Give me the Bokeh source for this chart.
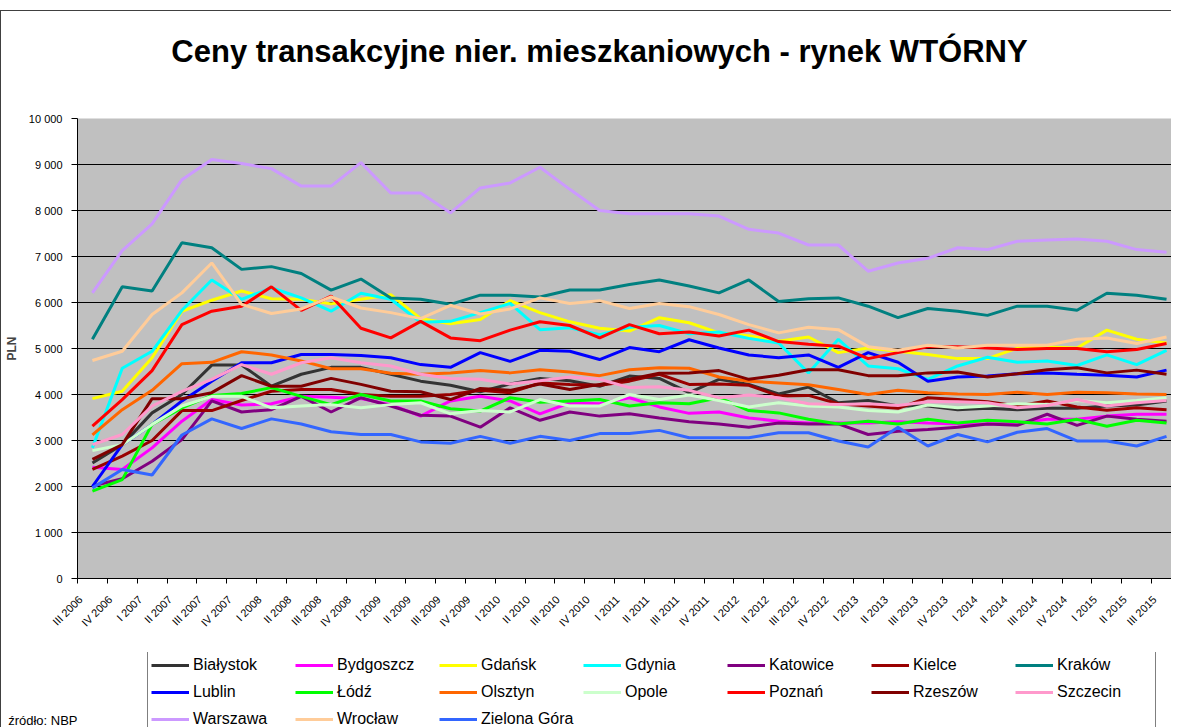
from math import pi
from bokeh.plotting import figure
from bokeh.layouts import column
from bokeh.models import FixedTicker, Legend, LegendItem, Range1d, LinearAxis, Label
from bokeh.embed import file_html
from bokeh.resources import INLINE

quarters = ["III 2006", "IV 2006",
            "I 2007", "II 2007", "III 2007", "IV 2007",
            "I 2008", "II 2008", "III 2008", "IV 2008",
            "I 2009", "II 2009", "III 2009", "IV 2009",
            "I 2010", "II 2010", "III 2010", "IV 2010",
            "I 2011", "II 2011", "III 2011", "IV 2011",
            "I 2012", "II 2012", "III 2012", "IV 2012",
            "I 2013", "II 2013", "III 2013", "IV 2013",
            "I 2014", "II 2014", "III 2014", "IV 2014",
            "I 2015", "II 2015", "III 2015"]

y_ticks = [0, 1000, 2000, 3000, 4000, 5000, 6000, 7000, 8000, 9000, 10000]
y_tick_labels = ["0", "1 000", "2 000", "3 000", "4 000", "5 000",
                 "6 000", "7 000", "8 000", "9 000", "10 000"]

bialystok = [2510, 2910, 3600, 4000, 4640, 4640, 4180, 4440, 4590, 4590, 4440, 4290, 4200, 4060, 4230, 4350, 4300, 4180, 4400, 4350,
             4040, 4330, 4220, 4010, 4160, 3820, 3870, 3750, 3750, 3670, 3700, 3670, 3700, 3700, 3750, 3770, 3860]
bydgoszcz = [2420, 2370, 2840, 3420, 3890, 3770, 3800, 3960, 3940, 3910, 3780, 3530, 3860, 3960, 3860, 3580, 3820, 3800, 3930, 3730,
             3590, 3620, 3490, 3420, 3380, 3380, 3380, 3410, 3380, 3360, 3360, 3380, 3460, 3460, 3530, 3570, 3570]
gdansk = [3910, 4070, 4800, 5810, 6050, 6250, 6080, 6070, 5970, 6070, 6170, 5650, 5540, 5630, 6040, 5780, 5580, 5440, 5380, 5670,
          5560, 5340, 5280, 5160, 5250, 4910, 5010, 4940, 4870, 4780, 4780, 5010, 5030, 5010, 5400, 5200, 5120]
gdynia = [2840, 4570, 4940, 5830, 6490, 6070, 6320, 6100, 5810, 6200, 6070, 5570, 5590, 5780, 5980, 5410, 5450, 5300, 5460, 5500,
          5320, 5360, 5220, 5120, 4470, 5200, 4620, 4560, 4330, 4620, 4810, 4700, 4730, 4630, 4860, 4650, 4960]
katowice = [2010, 2170, 2550, 3020, 3860, 3620, 3670, 3960, 3620, 3930, 3750, 3550, 3530, 3290, 3710, 3440, 3620, 3530, 3580, 3490,
            3410, 3360, 3290, 3380, 3360, 3360, 3130, 3200, 3240, 3290, 3360, 3330, 3570, 3330, 3530, 3460, 3420]
kielce = [2370, 2660, 3000, 3650, 3650, 3870, 4070, 4110, 4110, 4000, 3960, 3960, 4000, 4090, 4040, 4250, 4220, 4200, 4290, 4440,
          4220, 4230, 4200, 3970, 3980, 3800, 3750, 3700, 3930, 3890, 3840, 3750, 3860, 3730, 3660, 3710, 3670]
krakow = [5200, 6340, 6250, 7300, 7190, 6720, 6780, 6630, 6270, 6510, 6100, 6070, 5960, 6160, 6160, 6120, 6270, 6270, 6390, 6490,
          6360, 6210, 6490, 6020, 6080, 6100, 5920, 5670, 5870, 5810, 5720, 5920, 5920, 5830, 6200, 6160, 6070]
lublin = [2000, 2910, 3350, 3860, 4290, 4690, 4690, 4870, 4870, 4850, 4800, 4650, 4590, 4910, 4720, 4960, 4940, 4760, 5020, 4930,
          5190, 5010, 4860, 4800, 4860, 4590, 4910, 4700, 4290, 4380, 4400, 4450, 4470, 4440, 4420, 4380, 4530]
lodz = [1900, 2150, 3350, 3710, 3980, 4020, 4150, 3960, 3780, 4000, 3860, 3860, 3690, 3640, 3930, 3830, 3860, 3890, 3750, 3820,
        3800, 3930, 3650, 3600, 3460, 3360, 3420, 3360, 3460, 3380, 3440, 3410, 3360, 3460, 3310, 3440, 3380]
olsztyn = [3120, 3670, 4090, 4670, 4700, 4930, 4860, 4730, 4560, 4560, 4460, 4440, 4470, 4520, 4470, 4540, 4490, 4410, 4540, 4580,
           4570, 4380, 4290, 4250, 4210, 4110, 4000, 4090, 4040, 4010, 4000, 4050, 4000, 4050, 4040, 4010, 4000]
opole = [2780, 2910, 3350, 3750, 3960, 3960, 3710, 3750, 3780, 3710, 3780, 3820, 3580, 3650, 3620, 3890, 3750, 3750, 4000, 3890,
         3990, 3870, 3730, 3820, 3750, 3730, 3650, 3620, 3770, 3710, 3750, 3800, 3780, 3870, 3820, 3870, 3930]
poznan = [3310, 3890, 4520, 5520, 5810, 5920, 6340, 5830, 6140, 5440, 5230, 5590, 5230, 5170, 5400, 5580, 5500, 5230, 5520, 5320,
          5360, 5270, 5400, 5150, 5090, 5050, 4780, 4910, 5040, 5040, 5010, 4980, 5000, 5000, 4930, 4980, 5110]
rzeszow = [2590, 2910, 3910, 3910, 4040, 4410, 4180, 4180, 4350, 4220, 4070, 4060, 3890, 4130, 4090, 4230, 4110, 4220, 4330, 4460,
           4470, 4520, 4330, 4420, 4540, 4540, 4410, 4410, 4470, 4490, 4380, 4450, 4540, 4580, 4470, 4530, 4440]
szczecin = [2910, 3130, 3750, 4070, 4330, 4650, 4440, 4690, 4800, 4690, 4620, 4440, 4350, 4330, 4230, 4300, 4380, 4330, 4150, 4170,
            4090, 3930, 3990, 3930, 3800, 3780, 3800, 3760, 3840, 3840, 3820, 3710, 3760, 3890, 3750, 3820, 3870]
warszawa = [6210, 7130, 7710, 8670, 9110, 9020, 8910, 8530, 8530, 9040, 8380, 8380, 7950, 8490, 8600, 8940, 8460, 8000, 7930, 7930,
            7930, 7880, 7590, 7510, 7250, 7250, 6680, 6860, 6960, 7190, 7150, 7330, 7360, 7380, 7330, 7150, 7090]
wroclaw = [4740, 4940, 5740, 6210, 6860, 5960, 5760, 5860, 6120, 5880, 5780, 5650, 5940, 5750, 5860, 6100, 5980, 6040, 5870, 5980,
           5910, 5740, 5520, 5340, 5460, 5410, 5040, 4960, 5070, 5010, 5070, 5070, 5070, 5200, 5230, 5110, 5250]
zielona_gora = [1970, 2370, 2250, 3120, 3470, 3260, 3470, 3360, 3190, 3130, 3130, 2970, 2940, 3090, 2940, 3090, 3000, 3150, 3150, 3220,
                3060, 3060, 3060, 3170, 3170, 2990, 2860, 3290, 2880, 3130, 2970, 3180, 3260, 2990, 2990, 2880, 3090]

cities = ["Białystok", "Bydgoszcz", "Gdańsk", "Gdynia", "Katowice", "Kielce", "Kraków",
          "Lublin", "Łódź", "Olsztyn", "Opole", "Poznań", "Rzeszów", "Szczecin",
          "Warszawa", "Wrocław", "Zielona Góra"]
series = [bialystok, bydgoszcz, gdansk, gdynia, katowice, kielce, krakow,
          lublin, lodz, olsztyn, opole, poznan, rzeszow, szczecin,
          warszawa, wroclaw, zielona_gora]
colors = ["#333333", "#FF00FF", "#FFFF00", "#00FFFF", "#800080", "#990000", "#008080",
          "#0000FF", "#00FF00", "#FF6600", "#CCFFCC", "#FF0000", "#800000", "#FF99CC",
          "#CC99FF", "#FFCC99", "#3366FF"]
title_text = "Ceny transakcyjne nier. mieszkaniowych - rynek WTÓRNY"
source_note = "źródło: NBP"

FONT = "Liberation Sans"
x = list(range(len(quarters)))

W = 1170
TITLE_H = 99
MAIN_H = 542
LEG_H = 75
FRAME_W = 1100
CAT_W = 30


def strip(height):
    f = figure(width=W, height=height, output_backend="svg", toolbar_location=None, title=None,
               x_range=Range1d(0, 1), y_range=Range1d(0, 1),
               x_axis_type=None, y_axis_type=None, min_border=0,
               background_fill_color="white", border_fill_color="white", outline_line_color=None)
    f.xgrid.visible = False
    f.ygrid.visible = False
    return f


# ---- title strip
pt = strip(TITLE_H)
pt.add_layout(Label(x=522, y=59, x_units="screen", y_units="screen", text=title_text,
                    text_font=FONT, text_font_size="31px", text_font_style="bold",
                    text_align="center", text_baseline="middle", text_color="black"))

# ---- main chart
p = figure(width=W, height=MAIN_H, output_backend="svg", toolbar_location=None, title=None,
           x_range=Range1d(-0.5, -0.5 + FRAME_W / CAT_W), y_range=Range1d(0, 10000),
           min_border_left=70, min_border_right=0, min_border_top=8, min_border_bottom=74,
           background_fill_color="#C0C0C0", border_fill_color="white", outline_line_color=None)

for name, vals, col in zip(cities, series, colors):
    p.line(x, vals, line_color=col, line_width=3)

label_shift = 0.4
xa = p.xaxis[0]
xa.ticker = FixedTicker(ticks=[i - label_shift for i in x],
                        minor_ticks=[i - 0.5 for i in range(len(quarters) + 1)])
xa.major_label_overrides = {i - label_shift: q for i, q in zip(x, quarters)}
xa.major_tick_line_color = None
xa.major_tick_in = 0
xa.major_tick_out = 5
xa.minor_tick_line_color = "black"
xa.minor_tick_in = 0
xa.minor_tick_out = 5
xa.major_label_orientation = pi / 4
xa.major_label_text_font = FONT
xa.major_label_text_font_size = "11px"
xa.major_label_text_color = "black"
xa.major_label_standoff = 14
xa.axis_line_color = "black"

ya = p.yaxis[0]
ya.ticker = FixedTicker(ticks=y_ticks, minor_ticks=[])
ya.major_label_overrides = {t: l for t, l in zip(y_ticks, y_tick_labels)}
ya.major_tick_in = 0
ya.major_tick_out = 6
ya.major_tick_line_color = "black"
ya.major_label_standoff = 9
ya.major_label_text_font = FONT
ya.major_label_text_font_size = "11px"
ya.major_label_text_color = "black"
ya.axis_line_color = "black"
ya.axis_label = "PLN"
ya.axis_label_text_font = FONT
ya.axis_label_text_font_size = "12px"
ya.axis_label_text_font_style = "bold"
ya.axis_label_standoff = 7

p.xgrid.grid_line_color = None
p.ygrid.grid_line_color = "black"
p.ygrid.grid_line_width = 1

# ---- legend strip: the series are drawn here too but lie outside its (0..1)
# view, so only the legend swatches show
pl = strip(LEG_H)
items = []
for name, vals, col in zip(cities, series, colors):
    r = pl.line(x, vals, line_color=col, line_width=3)
    items.append(LegendItem(label=name, renderers=[r]))

legend = Legend(items=items, orientation="horizontal", ncols=7, location=(70, -6),
                label_text_font=FONT, label_text_font_size="16px", label_text_color="black",
                glyph_width=38, glyph_height=20, label_height=20, label_width=95,
                label_standoff=4, spacing=7, padding=3, margin=0,
                border_line_color="black", border_line_width=1,
                background_fill_color="white", background_fill_alpha=1.0)
pl.add_layout(legend)

note_pos = 0.1
note_axis = LinearAxis(ticker=FixedTicker(ticks=[note_pos], minor_ticks=[]),
                       major_label_overrides={note_pos: source_note},
                       axis_line_color=None, major_tick_line_color=None,
                       major_tick_in=0, major_tick_out=0, major_label_standoff=0,
                       major_label_text_font=FONT, major_label_text_font_size="13px",
                       major_label_text_color="black")
pl.add_layout(note_axis, "left")

layout = column(pt, p, pl, spacing=0,
                styles={"margin-top": "10px",
                        "border-left": "1px solid #404040", "border-top": "1px solid #404040"})

open("out.html", "w").write(file_html(layout, INLINE))
